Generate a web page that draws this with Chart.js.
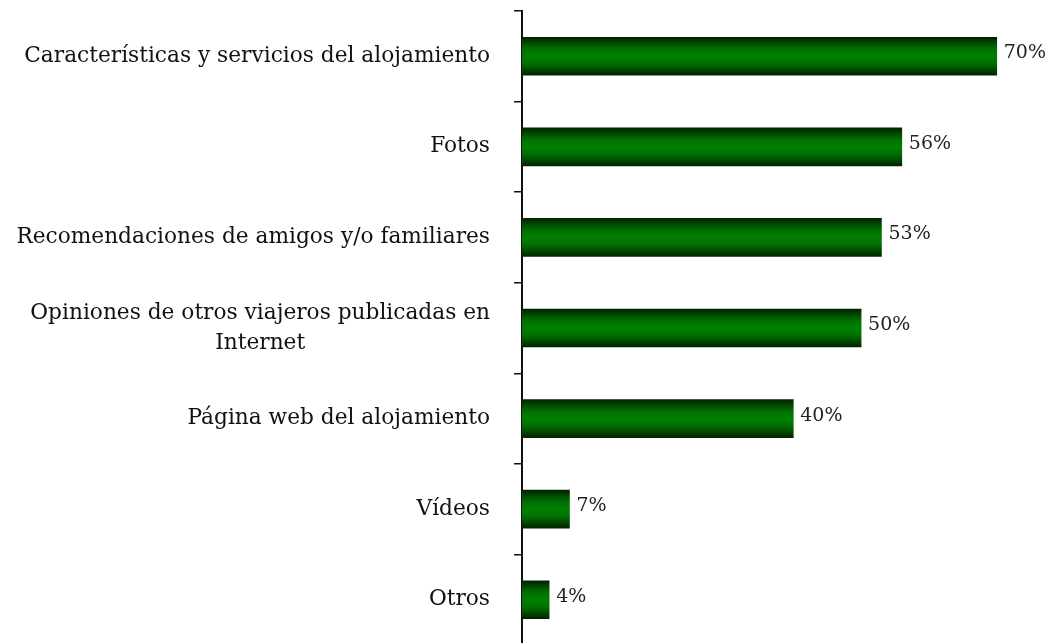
<!DOCTYPE html>
<html>
<head>
<meta charset="utf-8">
<script src="https://cdn.jsdelivr.net/npm/chart.js@4/dist/chart.umd.min.js"></script>
<style>
html,body{margin:0;padding:0;background:#fff;overflow:hidden;}
canvas{display:block;}
</style>
</head>
<body>
<canvas id="c" width="1051" height="645"></canvas>
<script>
const categories = [
  'Características y servicios del alojamiento',
  'Fotos',
  'Recomendaciones de amigos y/o familiares',
  ['Opiniones de otros viajeros publicadas en', 'Internet'],
  'Página web del alojamiento',
  'Vídeos',
  'Otros'
];
const values = [70, 56, 53, 50, 40, 7, 4];
const valueLabels = ['70%', '56%', '53%', '50%', '40%', '7%', '4%'];

const BAR_T = 38;
const LABEL_FONT = '21.7px "DejaVu Serif"';
const VALUE_FONT = '19px "DejaVu Serif"';
const AXIS_X = 522;
const LABEL_RIGHT = 490;

function barGradient(ctx) {
  const chart = ctx.chart;
  if (!chart.chartArea || ctx.type !== 'data') return '#007a00';
  const y = chart.scales.y.getPixelForValue(ctx.dataIndex);
  const g = chart.ctx.createLinearGradient(0, y - BAR_T / 2, 0, y + BAR_T / 2);
  g.addColorStop(0, '#002400');
  g.addColorStop(0.3, '#006e00');
  g.addColorStop(0.5, '#008000');
  g.addColorStop(0.7, '#006e00');
  g.addColorStop(1, '#002400');
  return g;
}

const labelsPlugin = {
  id: 'customLabels',
  afterDraw(chart) {
    const c = chart.ctx;
    const ys = chart.scales.y;
    c.save();
    c.font = LABEL_FONT;
    c.fillStyle = '#111';
    c.textBaseline = 'middle';
    c.textAlign = 'center';
    categories.forEach((lab, i) => {
      const lines = Array.isArray(lab) ? lab : [lab];
      const maxW = Math.max(...lines.map(l => c.measureText(l).width));
      const cx = LABEL_RIGHT - maxW / 2;
      const yc = ys.getPixelForValue(i);
      const lh = 30;
      lines.forEach((l, k) => {
        const y = yc + (k - (lines.length - 1) / 2) * lh;
        c.fillText(l, cx, y);
      });
    });
    const meta = chart.getDatasetMeta(0);
    c.font = VALUE_FONT;
    c.fillStyle = '#222';
    c.textAlign = 'left';
    meta.data.forEach((el, i) => {
      c.fillText(valueLabels[i], el.x + 7, el.y - 3);
    });
    c.restore();
  }
};

new Chart(document.getElementById('c'), {
  type: 'bar',
  data: {
    labels: categories,
    datasets: [{
      data: values,
      backgroundColor: barGradient,
      borderWidth: 0,
      barThickness: BAR_T
    }]
  },
  options: {
    indexAxis: 'y',
    responsive: false,
    animation: false,
    devicePixelRatio: 1,
    layout: { padding: { top: 11, right: 0, bottom: 0, left: 0 } },
    plugins: { legend: { display: false }, tooltip: { enabled: false } },
    scales: {
      x: { display: false, min: 0, max: 78 },
      y: {
        offset: true,
        ticks: { display: false },
        grid: {
          offset: true,
          drawOnChartArea: false,
          drawTicks: true,
          tickLength: 8,
          color: '#111',
          lineWidth: 1.5
        },
        border: { display: true, color: '#111', width: 2 },
        afterFit(scale) { scale.width = AXIS_X; }
      }
    }
  },
  plugins: [labelsPlugin]
});
</script>
</body>
</html>
